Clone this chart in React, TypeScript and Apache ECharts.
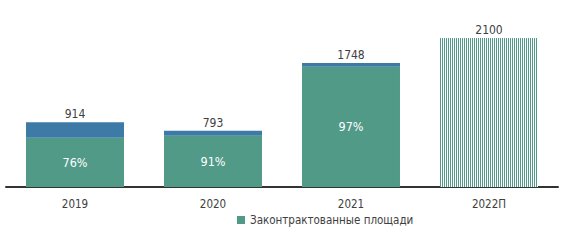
import React, { useEffect, useRef } from "react";
import * as echarts from "echarts";

const categories = ["2019", "2020", "2021", "2022П"];
const totals = [914, 793, 1748, 2100];
const contractedPct = [76, 91, 97, null];
const isForecast = [false, false, false, true];

const GREEN = "#519a88";
const BLUE = "#3d7aa5";
const FONT = "'DejaVu Sans Condensed', 'DejaVu Sans', Verdana, sans-serif";

export default function App() {
  const ref = useRef<HTMLDivElement>(null);
  useEffect(() => {
    if (!ref.current) return;
    const chart = echarts.init(ref.current, null, { renderer: "svg" });
    const contracted = totals.map((t, i) =>
      contractedPct[i] == null ? "-" : Math.round((t * (contractedPct[i] as number)) / 100)
    );
    const rest = totals.map((t, i) =>
      contractedPct[i] == null ? "-" : t - Math.round((t * (contractedPct[i] as number)) / 100)
    );
    const forecast = totals.map((t, i) => (isForecast[i] ? t : "-"));
    chart.setOption({
      animation: false,
      textStyle: { fontFamily: FONT },
      grid: { left: 6, right: 8, top: 38, bottom: 53 },
      legend: {
        data: ["Законтрактованные площади"],
        left: 232,
        top: 209,
        itemWidth: 8,
        itemHeight: 8,
        itemGap: 6,
        icon: "rect",
        textStyle: { fontFamily: FONT, fontSize: 11.5, color: "#404040" },
      },
      xAxis: {
        type: "category",
        data: categories,
        axisLine: { lineStyle: { color: "#333", width: 2 } },
        axisTick: { show: false },
        axisLabel: { fontFamily: FONT, fontSize: 11.5, color: "#404040", margin: 11 },
      },
      yAxis: { type: "value", min: 0, max: 2100, show: false, splitLine: { show: false } },
      series: [
        {
          name: "Законтрактованные площади",
          type: "bar",
          stack: "a",
          barWidth: "71%",
          data: contracted,
          itemStyle: { color: GREEN },
          label: {
            show: true,
            position: "inside",
            color: "#fff",
            fontSize: 12.5,
            fontFamily: FONT,
            formatter: (p: any) => `${contractedPct[p.dataIndex]}%`,
          },
        },
        {
          name: "Свободные площади",
          type: "bar",
          stack: "a",
          data: rest,
          itemStyle: { color: BLUE },
          label: {
            show: true,
            position: "top",
            distance: 2,
            color: "#404040",
            fontSize: 12,
            fontFamily: FONT,
            formatter: (p: any) => `${totals[p.dataIndex]}`,
          },
        },
        {
          name: "Прогноз",
          type: "bar",
          stack: "a",
          data: forecast,
          itemStyle: {
            color: "#ffffff",
            decal: {
              symbol: "rect",
              symbolSize: 1,
              color: GREEN,
              dashArrayX: [1, 1],
              dashArrayY: [10, 0],
              rotation: 0,
            },
          },
          label: {
            show: true,
            position: "top",
            distance: 2,
            color: "#404040",
            fontSize: 12,
            fontFamily: FONT,
            formatter: (p: any) => `${totals[p.dataIndex]}`,
          },
        },
      ],
    });
    return () => chart.dispose();
  }, []);
  return (
    <div
      ref={ref}
      style={{ position: "fixed", left: 0, top: 0, width: 566, height: 240, background: "#fff" }}
    />
  );
}
